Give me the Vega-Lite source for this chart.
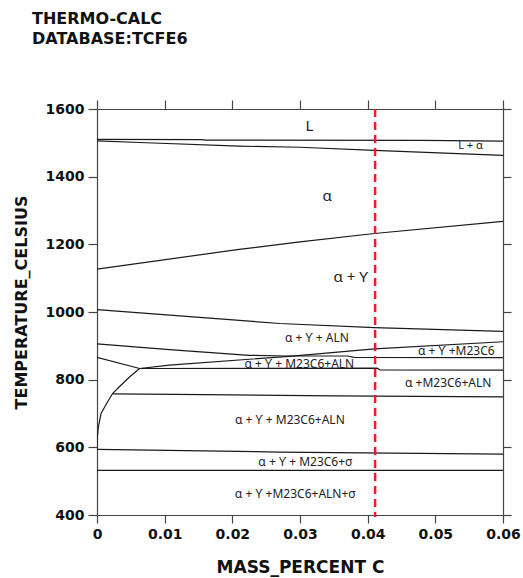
{
  "$schema": "https://vega.github.io/schema/vega-lite/v6.json",
  "autosize": "none",
  "width": 406,
  "height": 406,
  "padding": {"left": 97, "top": 109, "right": 20, "bottom": 63},
  "background": "white",
  "config": {"view": {"stroke": null}, "axis": {"grid": false}},
  "title": {
    "text": ["THERMO-CALC", "DATABASE:TCFE6"],
    "anchor": "start",
    "frame": "group",
    "dx": -65,
    "offset": 52,
    "font": "DejaVu Sans",
    "fontSize": 16,
    "fontWeight": "bold",
    "lineHeight": 20,
    "color": "#111111"
  },
  "datasets": {
    "lines": [
      {"s": "liq", "o": 0, "x": 0, "t": 1510},
      {"s": "liq", "o": 1, "x": 0.0155, "t": 1509.5},
      {"s": "liq", "o": 2, "x": 0.016, "t": 1508},
      {"s": "liq", "o": 3, "x": 0.048, "t": 1507},
      {"s": "liq", "o": 4, "x": 0.06, "t": 1505},
      {"s": "sol", "o": 0, "x": 0, "t": 1506},
      {"s": "sol", "o": 1, "x": 0.0063, "t": 1501},
      {"s": "sol", "o": 2, "x": 0.021, "t": 1490},
      {"s": "sol", "o": 3, "x": 0.03, "t": 1487},
      {"s": "sol", "o": 4, "x": 0.041, "t": 1478},
      {"s": "sol", "o": 5, "x": 0.06, "t": 1463},
      {"s": "J", "o": 0, "x": 0, "t": 1127},
      {"s": "J", "o": 1, "x": 0.021, "t": 1185},
      {"s": "J", "o": 2, "x": 0.03, "t": 1207},
      {"s": "J", "o": 3, "x": 0.041, "t": 1232},
      {"s": "J", "o": 4, "x": 0.06, "t": 1268},
      {"s": "I", "o": 0, "x": 0, "t": 1007},
      {"s": "I", "o": 1, "x": 0.027, "t": 966},
      {"s": "I", "o": 2, "x": 0.041, "t": 954},
      {"s": "I", "o": 3, "x": 0.06, "t": 943},
      {"s": "A", "o": 0, "x": 0, "t": 906},
      {"s": "A", "o": 1, "x": 0.0107, "t": 889},
      {"s": "A", "o": 2, "x": 0.0225, "t": 872},
      {"s": "A", "o": 3, "x": 0.028, "t": 870},
      {"s": "A", "o": 4, "x": 0.037, "t": 870},
      {"s": "A", "o": 5, "x": 0.038, "t": 866},
      {"s": "A", "o": 6, "x": 0.06, "t": 865},
      {"s": "B", "o": 0, "x": 0.0063, "t": 833},
      {"s": "B", "o": 1, "x": 0.0107, "t": 843},
      {"s": "B", "o": 2, "x": 0.0284, "t": 869},
      {"s": "B", "o": 3, "x": 0.041, "t": 891},
      {"s": "B", "o": 4, "x": 0.06, "t": 912},
      {"s": "E", "o": 0, "x": 0, "t": 866},
      {"s": "E", "o": 1, "x": 0.0063, "t": 833},
      {"s": "C", "o": 0, "x": 0.0063, "t": 833},
      {"s": "C", "o": 1, "x": 0.0414, "t": 834},
      {"s": "C", "o": 2, "x": 0.0418, "t": 829},
      {"s": "C", "o": 3, "x": 0.06, "t": 828},
      {"s": "D", "o": 0, "x": 0, "t": 594},
      {"s": "D", "o": 1, "x": 0, "t": 620},
      {"s": "D", "o": 2, "x": 0.0002, "t": 660},
      {"s": "D", "o": 3, "x": 0.0006, "t": 700},
      {"s": "D", "o": 4, "x": 0.0014, "t": 729},
      {"s": "D", "o": 5, "x": 0.0023, "t": 759},
      {"s": "D", "o": 6, "x": 0.0033, "t": 779},
      {"s": "D", "o": 7, "x": 0.0048, "t": 808},
      {"s": "D", "o": 8, "x": 0.0063, "t": 833},
      {"s": "F", "o": 0, "x": 0.0023, "t": 758},
      {"s": "F", "o": 1, "x": 0.016, "t": 756},
      {"s": "F", "o": 2, "x": 0.035, "t": 752},
      {"s": "F", "o": 3, "x": 0.06, "t": 749},
      {"s": "G", "o": 0, "x": 0, "t": 594},
      {"s": "G", "o": 1, "x": 0.027, "t": 586},
      {"s": "G", "o": 2, "x": 0.06, "t": 580},
      {"s": "H", "o": 0, "x": 0, "t": 532},
      {"s": "H", "o": 1, "x": 0.06, "t": 532}
    ],
    "big": [
      {"x": 0.0314, "t": 1550, "label": "L"},
      {"x": 0.034, "t": 1343, "label": "α"},
      {"x": 0.0375, "t": 1102, "label": "α + ϒ"}
    ],
    "small": [
      {"x": 0.0325, "t": 922, "label": "α + ϒ + ALN"},
      {"x": 0.0531, "t": 884, "label": "α + ϒ +M23C6"},
      {"x": 0.0299, "t": 846, "label": "α + ϒ + M23C6+ALN"},
      {"x": 0.0519, "t": 789, "label": "α +M23C6+ALN"},
      {"x": 0.0285, "t": 682, "label": "α + ϒ + M23C6+ALN"},
      {"x": 0.0308, "t": 557, "label": "α + ϒ + M23C6+σ"},
      {"x": 0.0293, "t": 463, "label": "α + ϒ +M23C6+ALN+σ"}
    ],
    "tiny": [
      {"x": 0.0552, "t": 1490, "label": "L + α"}
    ],
    "marker": [
      {"x": 0.0411, "t": 1600, "t2": 394}
    ]
  },
  "layer": [
    {
      "data": {"name": "lines"},
      "mark": {"type": "line", "color": "#1a1a1a", "strokeWidth": 1.2, "clip": true},
      "encoding": {
        "x": {
          "field": "x", "type": "quantitative",
          "scale": {"domain": [0, 0.06], "nice": false, "zero": false},
          "axis": {
            "orient": "bottom",
            "values": [0, 0.01, 0.02, 0.03, 0.04, 0.05, 0.06],
            "format": "~g",
            "title": "MASS_PERCENT C",
            "titleFont": "DejaVu Sans", "titleFontSize": 17, "titleFontWeight": "bold", "titleColor": "#111111",
            "titleY": 57, "titleBaseline": "alphabetic",
            "labelFont": "DejaVu Sans", "labelFontSize": 14, "labelFontWeight": "bold", "labelColor": "#111111",
            "labelPadding": 4, "labelFlush": false,
            "tickSize": 8, "tickColor": "#444444", "domainColor": "#444444", "domainWidth": 1.2, "tickWidth": 1.2
          }
        },
        "y": {
          "field": "t", "type": "quantitative",
          "scale": {"domain": [400, 1600], "nice": false, "zero": false},
          "axis": {
            "orient": "left",
            "values": [400, 600, 800, 1000, 1200, 1400, 1600],
            "format": "d",
            "title": "TEMPERATURE_CELSIUS",
            "titleFont": "DejaVu Sans", "titleFontSize": 16, "titleFontWeight": "bold", "titleColor": "#111111",
            "titleX": -68, "titleY": 193, "titleBaseline": "bottom", "titleAngle": -90, "titleAlign": "center",
            "labelFont": "DejaVu Sans", "labelFontSize": 14, "labelFontWeight": "bold", "labelColor": "#111111",
            "labelPadding": 4, "labelFlush": false,
            "tickSize": 9, "tickColor": "#444444", "domainColor": "#444444", "domainWidth": 1.2, "tickWidth": 1.2
          }
        },
        "detail": {"field": "s"},
        "order": {"field": "o", "type": "quantitative"}
      }
    },
    {
      "data": {"name": "marker"},
      "mark": {"type": "rule", "color": "#ee1c25", "strokeWidth": 2.5, "strokeDash": [8, 5]},
      "encoding": {
        "x": {
          "field": "x", "type": "quantitative",
          "axis": {
            "orient": "top", "labels": false, "title": null,
            "values": [0, 0.01, 0.02, 0.03, 0.04, 0.05, 0.06],
            "tickSize": 9, "tickColor": "#444444", "domainColor": "#444444", "domainWidth": 1.2, "tickWidth": 1.2
          }
        },
        "y": {
          "field": "t", "type": "quantitative",
          "axis": {
            "orient": "right", "labels": false, "title": null,
            "values": [400, 600, 800, 1000, 1200, 1400, 1600],
            "tickSize": 8, "tickColor": "#444444", "domainColor": "#444444", "domainWidth": 1.2, "tickWidth": 1.2
          }
        },
        "y2": {"field": "t2"}
      }
    },
    {
      "data": {"name": "big"},
      "mark": {"type": "text", "font": "Noto Sans", "fontSize": 15, "color": "#222222", "align": "center", "baseline": "middle"},
      "encoding": {
        "x": {"field": "x", "type": "quantitative", "axis": null},
        "y": {"field": "t", "type": "quantitative", "axis": null},
        "text": {"field": "label"}
      }
    },
    {
      "data": {"name": "small"},
      "mark": {"type": "text", "font": "Noto Sans", "fontSize": 12, "color": "#222222", "align": "center", "baseline": "middle"},
      "encoding": {
        "x": {"field": "x", "type": "quantitative", "axis": null},
        "y": {"field": "t", "type": "quantitative", "axis": null},
        "text": {"field": "label"}
      }
    },
    {
      "data": {"name": "tiny"},
      "mark": {"type": "text", "font": "Noto Sans", "fontSize": 11, "color": "#222222", "align": "center", "baseline": "middle"},
      "encoding": {
        "x": {"field": "x", "type": "quantitative", "axis": null},
        "y": {"field": "t", "type": "quantitative", "axis": null},
        "text": {"field": "label"}
      }
    }
  ],
  "resolve": {"axis": {"x": "independent", "y": "independent"}}
}
